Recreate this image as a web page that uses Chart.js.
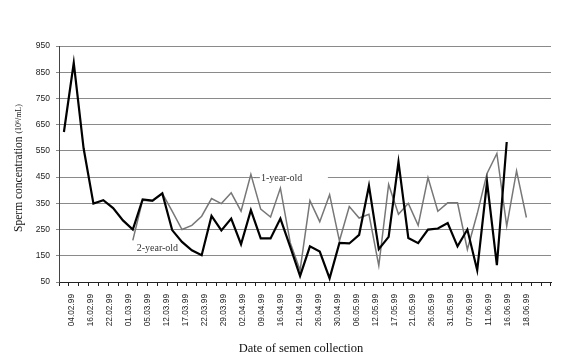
<!DOCTYPE html>
<html><head><meta charset="utf-8">
<script src="https://cdn.jsdelivr.net/npm/chart.js@4"></script>
<style>html,body{margin:0;padding:0;background:#fff}#wrap{width:567px;height:362px}</style>
</head><body><div id="wrap"><canvas id="c" width="567" height="362"></canvas></div>
<script>
// ---- data ----
const tickLabels = ['04.02.99','16.02.99','22.02.99','01.03.99','05.03.99','12.03.99','17.03.99','22.03.99','29.03.99','02.04.99','09.04.99','16.04.99','21.04.99','26.04.99','30.04.99','06.05.99','12.05.99','17.05.99','21.05.99','26.05.99','31.05.99','07.06.99','11.06.99','16.06.99','18.06.99'];
const categoryCount = 50;
const twoYearOld = [622,886,560,349,362,332,285,250,365,360,388,248,203,171,152,302,247,292,194,324,216,216,292,184,73,186,166,64,199,197,230,417,175,222,508,218,198,250,254,275,186,250,95,432,114,584];
const oneYearOld = [null,null,null,null,null,null,null,209,362,358,388,320,250,266,301,368,349,390,320,461,328,298,408,200,95,360,280,383,207,338,294,308,112,422,308,350,266,448,320,352,352,174,310,464,540,263,474,296];
const yMin = 50, yMax = 950, yStep = 100;

const categories = [];
for (let i = 0; i < categoryCount; i++) categories.push('s' + (i + 1));

const SERIF = '"Liberation Serif", "DejaVu Serif", serif';
const SANS = '"Liberation Sans", Arial, sans-serif';

const annot = {
  id: 'annot',
  beforeDatasetsDraw(chart) {
    const {ctx, scales: {x, y}} = chart;
    const px = x.getPixelForValue(19), py = y.getPixelForValue(450);
    ctx.save();
    ctx.fillStyle = '#fff';
    ctx.fillRect(px + 5, py - 6, 72, 12);
    ctx.strokeStyle = '#777'; ctx.lineWidth = 1;
    ctx.beginPath(); ctx.moveTo(px + 3, py + 0.5); ctx.lineTo(px + 9, py + 0.5); ctx.stroke();
    ctx.fillStyle = '#333';
    ctx.font = '10px ' + SERIF;
    ctx.textBaseline = 'middle'; ctx.textAlign = 'left';
    ctx.fillText('1-year-old', px + 10, py + 1);
    ctx.restore();
  },
  afterDraw(chart) {
    const {ctx, scales: {x, y}} = chart;
    ctx.save();
    ctx.fillStyle = '#333';
    ctx.font = '10px ' + SERIF;
    ctx.textBaseline = 'middle'; ctx.textAlign = 'center';
    ctx.fillText('2-year-old', (x.getPixelForValue(9) + x.getPixelForValue(10)) / 2, y.getPixelForValue(177));
    ctx.fillStyle = '#111';
    ctx.font = '12.5px ' + SERIF;
    ctx.fillText('Date of semen collection', 301, 349);
    ctx.translate(19, 168);
    ctx.rotate(-Math.PI / 2);
    const f1 = '11.5px ' + SERIF, f2 = '8px ' + SERIF;
    const t1 = 'Sperm concentration ', t2 = '(10\u2076/mL)';
    ctx.font = f1; const w1 = ctx.measureText(t1).width;
    ctx.font = f2; const w2 = ctx.measureText(t2).width;
    const start = -(w1 + w2) / 2;
    ctx.textAlign = 'left';
    ctx.font = f1; ctx.fillText(t1, start, 0);
    ctx.font = f2; ctx.fillText(t2, start + w1, 0);
    ctx.restore();
  }
};

new Chart(document.getElementById('c'), {
  type: 'line',
  data: {
    labels: categories,
    datasets: [
      {label: '2-year-old', data: twoYearOld, borderColor: '#000', borderWidth: 2.2, pointRadius: 0, tension: 0, fill: false},
      {label: '1-year-old', data: oneYearOld, borderColor: '#777', borderWidth: 1.5, pointRadius: 0, tension: 0, fill: false, spanGaps: false}
    ]
  },
  options: {
    responsive: false, animation: false, devicePixelRatio: 1,
    layout: {padding: {top: 46, right: 16, bottom: 0, left: 0}},
    plugins: {legend: {display: false}, tooltip: {enabled: false}},
    scales: {
      x: {
        type: 'category', offset: true, weight: 0,
        grid: {offset: true, drawOnChartArea: false, drawTicks: true, tickLength: 4, color: '#222', lineWidth: 1},
        border: {color: '#222', width: 1},
        ticks: {display: false},
        afterFit(s) { s.height = 4; }
      },
      xLabels: {
        type: 'linear', position: 'bottom', weight: 1,
        min: -0.686, max: 25.27,
        grid: {display: false, drawTicks: false},
        border: {display: false},
        afterBuildTicks(s) { s.ticks = tickLabels.map((_, k) => ({value: k})); },
        ticks: {
          autoSkip: false, maxRotation: 90, minRotation: 90, padding: 8, color: '#222',
          font: {family: SANS, size: 8.3},
          callback: (v) => tickLabels[v]
        },
        afterFit(s) { s.height = 76; }
      },
      y: {
        min: yMin, max: yMax,
        ticks: {stepSize: yStep, color: '#222', padding: 6, font: {family: SANS, size: 8.5}},
        grid: {color: '#8a8a8a', lineWidth: 1, tickLength: 3, drawTicks: true},
        border: {color: '#444', width: 1},
        afterFit(s) { s.width = 59; }
      }
    }
  },
  plugins: [annot]
});
</script>
</body></html>
